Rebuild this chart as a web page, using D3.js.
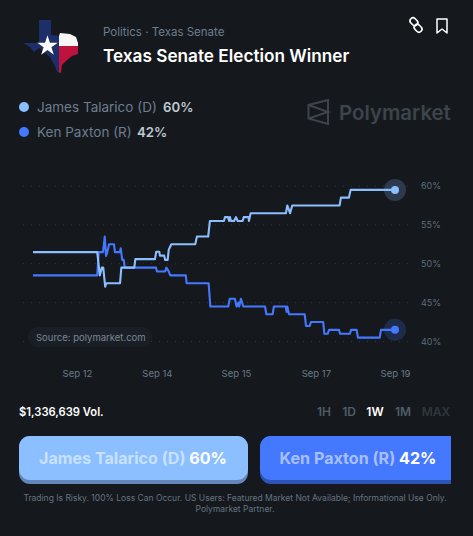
<!DOCTYPE html>
<html>
<head>
<meta charset="utf-8">
<script src="https://cdn.jsdelivr.net/npm/d3@7"></script>
<style>
html, body { margin: 0; padding: 0; background: #15191e; }
svg { display: block; font-family: Inter, "Noto Sans", sans-serif; }
</style>
</head>
<body>
<svg id="chart" width="473" height="536"></svg>
<script>
// hours since start of the 1W window, percent
const talaricoHours = [0,29.8,31,31.9,32.6,33.5,34,40.4,41,47,47.5,56.6,57.2,58.6,58.9,60.9,61.3,62.5,63,64.2,75.3,76.1,81.3,82.1,88.6,89.1,90.5,91,91.4,91.9,93.3,94.2,95,97.3,97.8,100.1,100.2,101,117.4,118,119.3,120.3,142.3,142.9,146.6,147.4,168];
const talaricoValues = [51.5,51.5,48.5,49.5,49.5,47.05,47.5,47.5,49.5,49.5,50.6,50.6,51.55,51.55,51.05,51.05,50.5,50.5,51.8,52.5,52.5,53.5,53.5,55.5,55.5,56,56,55.5,56,55.5,55.5,56,55.5,55.5,56,56,55.5,56.5,56.5,57.5,56.5,57.5,57.5,58.5,58.5,59.5,59.5];
const paxtonHours = [0,29.8,30.5,32.5,33.3,33.9,34.5,35.3,37.6,38,40.4,40.7,41.4,42.1,42.6,57.1,57.5,61.3,61.9,63,63.7,70.9,71.3,81.5,82.3,90.6,91.3,93.7,94.5,95.3,95.7,96.5,97.6,107.7,108.3,111.2,111.8,117.3,117.7,118,118.8,126.1,126.7,128.4,129,134.7,135.2,136.8,137.4,142,142.5,147.1,147.6,150.2,150.8,160.9,161.5,168];
const paxtonValues = [48.5,48.5,51.5,51.5,53.5,51,51.5,52.5,52.5,51.5,51.5,52,50.5,50.5,49.5,49.5,49,49,49.5,49,48.5,48.5,47.5,47.5,44.5,44.5,45.5,45.5,44.5,45,44.5,45.5,44.5,44.5,43.5,43.5,44.5,44.5,43.8,44.5,43.5,43.5,42,42,42.5,42.5,41,41,41.5,41.5,41,41,41.5,41.5,40.5,40.5,41.5,41.5];
const yTicks = [60, 55, 50, 45, 40];
const xTickHours = [20.4, 57.5, 94.2, 131.3, 168];
const xTickLabels = ["Sep 12", "Sep 14", "Sep 15", "Sep 17", "Sep 19"];
const ranges = ["1H", "1D", "1W", "1M", "MAX"];

const lightBlue = "#8bbfff", blue = "#4478ff";
const svg = d3.select("#chart");

function text(x, y, str, size, fill, weight, anchor) {
    return svg.append("text").attr("x", x).attr("y", y).text(str)
        .attr("font-size", size).attr("fill", fill)
        .attr("font-weight", weight || 400)
        .attr("text-anchor", anchor || "start");
}

// texas flag icon
const defs = svg.append("defs");
defs.append("clipPath").attr("id", "texas").append("path")
    .attr("d", "M39 20 L51 20 L51 35 L59 36 L60 33 L70 34 L76 37 L78 43 L78 54 L72 56 L66 61 L62 65 L61 73 L57 72 L55 66 L50 57 L45 53 L39 48 L34 52 L30 47 L23 43 L39 43 Z");
const flag = svg.append("g").attr("clip-path", "url(#texas)");
flag.append("rect").attr("x", 20).attr("y", 18).attr("width", 39).attr("height", 58).attr("fill", "#1c2f68");
flag.append("rect").attr("x", 59).attr("y", 18).attr("width", 22).attr("height", 28).attr("fill", "#f7f7f7");
flag.append("rect").attr("x", 59).attr("y", 46).attr("width", 22).attr("height", 30).attr("fill", "#c0123f");
svg.append("path").attr("transform", "translate(47.5,46)")
    .attr("d", d3.symbol(d3.symbolStar, 130)()).attr("fill", "#fff");

text(103, 36, "Politics · Texas Senate", 11.5, "#6e7d8e");
text(103, 62, "Texas Senate Election Winner", 17.2, "#fff", 600);

// top right icons
svg.append("g").attr("transform", "translate(416,25) rotate(45)").attr("fill", "none")
    .attr("stroke", "#fff").attr("stroke-width", 1.6).selectAll("rect")
    .data([[-8, -3.8], [-0.5, -2.2]]).join("rect")
    .attr("x", d => d[0]).attr("y", d => d[1]).attr("width", 8.5).attr("height", 6).attr("rx", 3);
svg.append("path").attr("d", "M437 19 H447 V33 L442 29 L437 33 Z")
    .attr("fill", "none").attr("stroke", "#fff").attr("stroke-width", 1.5).attr("stroke-linejoin", "round");

// legend
const legend = [
    { name: "James Talarico (D)", pct: "60%", color: lightBlue, y: 107, pctX: 163 },
    { name: "Ken Paxton (R)", pct: "42%", color: blue, y: 132, pctX: 137 }
];
legend.forEach(d => {
    svg.append("circle").attr("cx", 24).attr("cy", d.y).attr("r", 5).attr("fill", d.color);
    text(37, d.y + 5, d.name, 13.5, "#6e7d8e");
    text(d.pctX, d.y + 5, d.pct, 13.2, "#bfc8d2", 600);
});

// watermark
svg.append("path").attr("d", "M308.5 105 L328 100 V124 L308.5 118.5 Z M308.5 105 L328 112 L308.5 118.5")
    .attr("fill", "none").attr("stroke", "#3d444c").attr("stroke-width", 2);
text(339, 120, "Polymarket", 20.4, "#3d444c", 600);

// scales
const x = d3.scaleLinear().domain([0, 168]).range([33, 395]);
const y = d3.scaleLinear().domain([40, 60]).range([341.5, 186]);

const yAxis = svg.append("g").attr("transform", "translate(409,0)")
    .call(d3.axisRight(y).tickValues(yTicks).tickSize(0).tickPadding(12).tickFormat(d => d + "%"));
yAxis.select(".domain").remove();
yAxis.selectAll("text").attr("fill", "#5f6c7a").attr("font-size", 9).attr("font-family", "Inter");

svg.append("g").selectAll("line").data(yTicks).join("line")
    .attr("x1", 23).attr("x2", 410)
    .attr("y1", d => y(d)).attr("y2", d => y(d))
    .attr("stroke", "#2f353c").attr("stroke-width", 1).attr("stroke-dasharray", "1 7");

const xAxis = svg.append("g").attr("transform", "translate(0,377)")
    .call(d3.axisBottom(x).tickValues(xTickHours).tickSize(0).tickPadding(0)
        .tickFormat((d, i) => xTickLabels[i]));
xAxis.select(".domain").remove();
xAxis.selectAll("text").attr("fill", "#6b7986").attr("font-size", 9.5).attr("font-family", "Inter").attr("dy", 0);

// source pill
svg.append("rect").attr("x", 28).attr("y", 327).attr("width", 124).attr("height", 20)
    .attr("rx", 9).attr("fill", "#1a1f25");
text(36, 341, "Source: polymarket.com", 9.5, "#7b8794");

// lines
const line = d3.line().x(d => x(d[0])).y(d => y(d[1]));
const series = [
    { hours: paxtonHours, values: paxtonValues, color: blue },
    { hours: talaricoHours, values: talaricoValues, color: lightBlue }
];
series.forEach(s => {
    const pts = d3.zip(s.hours, s.values);
    svg.append("path").datum(pts).attr("d", line)
        .attr("fill", "none").attr("stroke", s.color).attr("stroke-width", 2.1)
        .attr("stroke-linejoin", "round");
    const last = pts[pts.length - 1];
    svg.append("circle").attr("cx", x(last[0])).attr("cy", y(last[1])).attr("r", 11)
        .attr("fill", s.color).attr("opacity", 0.2);
    svg.append("circle").attr("cx", x(last[0])).attr("cy", y(last[1])).attr("r", 4)
        .attr("fill", s.color);
});

// footer row
text(19, 416, "$1,336,639 Vol.", 11.2, "#fff", 600);
const rangeX = [324, 349, 375, 403, 436];
const rangeFill = ["#515c67", "#515c67", "#fff", "#515c67", "#30363c"];
ranges.forEach((r, i) => text(rangeX[i], 416, r, 12, rangeFill[i], 600, "middle"));

// buttons
const buttons = [
    { name: "James Talarico (D) ", pct: "60%", fill: lightBlue, shade: "#6287b8", x: 19, w: 229, cx: 133 },
    { name: "Ken Paxton (R) ", pct: "42%", fill: blue, shade: "#2d53b5", x: 260, w: 215, cx: 358 }
];
defs.append("clipPath").attr("id", "btnClip").append("rect").attr("x", 0).attr("y", 430).attr("width", 451).attr("height", 60);
const btnG = svg.append("g").attr("clip-path", "url(#btnClip)");
buttons.forEach(b => {
    btnG.append("rect").attr("x", b.x).attr("y", 436).attr("width", b.w).attr("height", 48).attr("rx", 11).attr("fill", b.shade);
    btnG.append("rect").attr("x", b.x).attr("y", 436).attr("width", b.w).attr("height", 44).attr("rx", 11).attr("fill", b.fill);
    const t = svg.append("text").attr("x", b.cx).attr("y", 464).attr("text-anchor", "middle")
        .attr("font-size", 16.1).attr("font-weight", 700);
    t.append("tspan").text(b.name).attr("fill", "#fff").attr("fill-opacity", 0.55);
    t.append("tspan").text(b.pct).attr("fill", "#fff");
});

text(235, 501, "Trading Is Risky. 100% Loss Can Occur. US Users: Featured Market Not Available; Informational Use Only.", 8.5, "#66737f", 400, "middle");
text(235, 512, "Polymarket Partner.", 8.5, "#66737f", 400, "middle");
</script>
</body>
</html>
